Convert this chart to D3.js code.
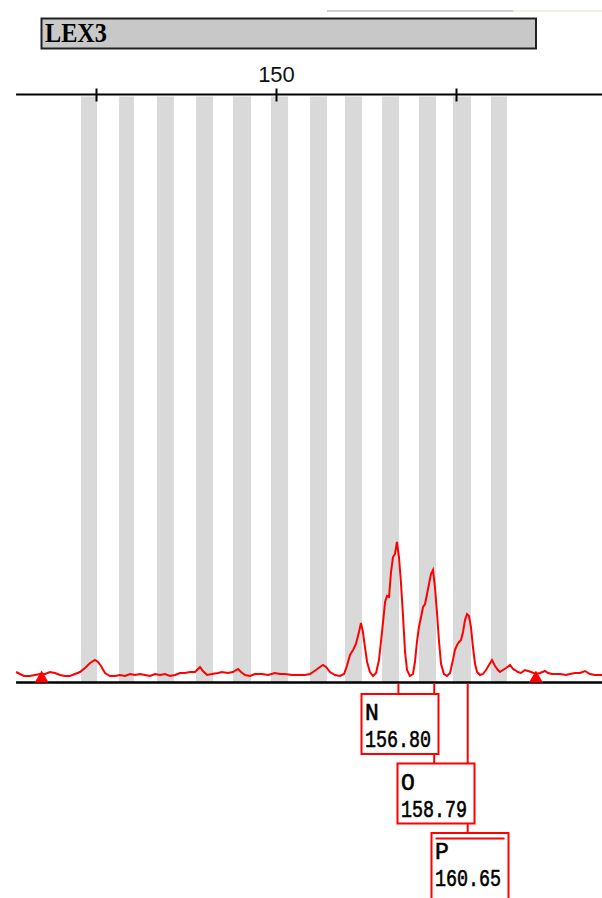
<!DOCTYPE html>
<html>
<head>
<meta charset="utf-8">
<script src="https://cdn.jsdelivr.net/npm/d3@7"></script>
<style>
html, body { margin: 0; padding: 0; background: #fff; }
svg { display: block; }
</style>
</head>
<body>
<svg id="chart" width="602" height="898"></svg>
<script>
// ---- data ----
const markerName = "LEX3";
const tickValues = [140, 150, 160];
const tickLabels = ["", "150", ""];
const binStart = [139.17, 141.28, 143.39, 145.56, 147.61, 149.72, 151.89, 153.83, 155.89, 157.94, 159.83, 161.94];
const binEnd   = [140.06, 142.11, 144.33, 146.50, 148.61, 150.67, 152.83, 154.78, 156.83, 158.89, 160.83, 162.83];
const traceBp = [135.56,135.78,136.00,136.33,136.61,136.89,137.17,137.44,137.72,138.00,138.28,138.56,138.83,139.11,139.39,139.67,139.94,140.11,140.28,140.50,140.78,141.06,141.33,141.61,141.89,142.17,142.44,142.72,143.00,143.28,143.56,143.83,144.11,144.39,144.67,144.94,145.22,145.50,145.67,145.78,145.94,146.17,146.44,146.78,147.00,147.33,147.61,147.89,148.06,148.28,148.56,148.83,149.22,149.56,149.94,150.22,150.50,150.89,151.33,151.61,151.89,152.22,152.44,152.61,152.78,153.00,153.28,153.56,153.78,153.94,154.11,154.28,154.44,154.61,154.72,154.83,154.94,155.06,155.22,155.39,155.56,155.72,155.89,156.06,156.17,156.28,156.39,156.50,156.61,156.72,156.83,156.94,157.06,157.17,157.28,157.44,157.61,157.72,157.83,157.94,158.06,158.17,158.28,158.39,158.50,158.61,158.72,158.83,158.94,159.06,159.17,159.33,159.50,159.67,159.83,159.94,160.06,160.17,160.28,160.39,160.50,160.61,160.72,160.83,160.94,161.06,161.17,161.33,161.50,161.67,161.83,162.00,162.17,162.33,162.44,162.61,162.78,163.00,163.17,163.28,163.44,163.61,163.83,164.00,164.17,164.44,164.67,164.94,165.11,165.33,165.56,165.78,166.11,166.33,166.61,166.89,167.17,167.44,167.72,168.00,168.11];
const traceRfu = [10,8,6,6,7,8,8,10,9,7,6,6,8,10,14,19,22,20,16,9,6,6,7,6,8,7,8,7,6,8,7,8,6,7,9,9,10,10,13,15,11,7,8,9,10,9,10,13,10,7,6,8,8,7,9,8,8,7,7,7,8,12,15,17,15,10,7,6,8,16,27,32,38,50,59,50,35,20,10,6,9,22,50,80,86,85,110,125,128,140,125,100,65,30,12,6,8,20,40,55,65,75,78,88,98,108,112,95,70,40,18,8,6,9,22,32,37,40,42,50,62,68,66,55,35,18,10,7,8,12,17,22,16,12,10,12,14,17,13,12,10,9,12,11,10,8,9,11,9,8,8,8,7,8,9,9,11,8,7,7,7];
const markerBp = [136.98, 164.44];
const peakNames = ["N", "O", "P"];
const peakSizes = [156.80, 158.79, 160.65];

// ---- layout ----
const W = 602, H = 898;
const svg = d3.select("#chart");
const axisY = 94.5, baseY = 682.5, plotTop = 96.5;
const x = d3.scaleLinear().domain([134.667, 168.111]).range([0, W]);
const y = d3.scaleLinear().domain([0, 585]).range([baseY - 0.5, baseY - 0.5 - 585]);

// faint artifact line at top
svg.append("line").attr("x1", 327).attr("x2", 513).attr("y1", 11).attr("y2", 11)
  .attr("stroke", "#d0d0d0").attr("stroke-width", 2);
svg.append("line").attr("x1", 513).attr("x2", W).attr("y1", 11).attr("y2", 11)
  .attr("stroke", "#f2f0e2").attr("stroke-width", 2);

// marker name bar
svg.append("rect").attr("x", 41.5).attr("y", 18.5).attr("width", 494.5).attr("height", 30)
  .attr("fill", "#c8c8c8").attr("stroke", "#222").attr("stroke-width", 2);
svg.append("text").attr("x", 45).attr("y", 42)
  .attr("font-family", "'Liberation Serif', 'Times New Roman', serif")
  .attr("font-weight", "bold").attr("font-size", 27)
  .attr("textLength", 62).attr("lengthAdjust", "spacingAndGlyphs")
  .attr("fill", "#000").text(markerName);

// bins
svg.append("g").selectAll("rect").data(binStart).join("rect")
  .attr("x", (d) => x(d))
  .attr("width", (d, i) => x(binEnd[i]) - x(d))
  .attr("y", plotTop).attr("height", baseY - plotTop)
  .attr("fill", "#d9d9d9");

// top axis
const axis = d3.axisTop(x).tickValues(tickValues)
  .tickFormat((d, i) => tickLabels[i]).tickSizeOuter(0).tickSizeInner(7);
const ag = svg.append("g").attr("transform", `translate(0,${axisY})`).call(axis);
ag.select(".domain").remove();
ag.append("line").attr("x1", x(135.56)).attr("x2", W).attr("y1", 0).attr("y2", 0)
  .attr("stroke", "#000").attr("stroke-width", 2);
ag.selectAll(".tick line").attr("y1", -6).attr("y2", 7).attr("stroke", "#000").attr("stroke-width", 2);
ag.selectAll(".tick text").attr("y", -12.5).attr("dy", 0)
  .attr("font-family", "'Liberation Sans', Arial, sans-serif").attr("font-size", 22)
  .attr("fill", "#111");

// baseline
svg.append("line").attr("x1", x(135.56)).attr("x2", W).attr("y1", baseY).attr("y2", baseY)
  .attr("stroke", "#000").attr("stroke-width", 2.5);

// trace
const pts = traceBp.map((b, i) => [b, traceRfu[i]]);
svg.append("path").datum(pts)
  .attr("d", d3.line().x((d) => x(d[0])).y((d) => y(d[1])))
  .attr("fill", "none").attr("stroke", "#ff0000").attr("stroke-width", 2)
  .attr("stroke-linejoin", "miter");

// baseline markers (triangles)
svg.append("g").selectAll("path").data(markerBp).join("path")
  .attr("d", (d) => `M${x(d) - 7},${baseY} L${x(d)},${baseY - 12} L${x(d) + 7},${baseY} Z`)
  .attr("fill", "#ff0000");

// peak labels
const boxW = 77, boxH = 60, rowStep = 69.5, firstTop = 694;
const lg = svg.append("g");
peakSizes.forEach((s, i) => {
  lg.append("line").attr("x1", x(s)).attr("x2", x(s))
    .attr("y1", baseY + 1).attr("y2", firstTop + i * rowStep)
    .attr("stroke", "#ff0000").attr("stroke-width", 2);
});
peakSizes.forEach((s, i) => {
  const left = Math.round(x(s) - 37) + 0.5;
  const top = firstTop + i * rowStep;
  const last = i === peakSizes.length - 1;
  const g = lg.append("g");
  g.append("rect").attr("x", left).attr("y", top).attr("width", boxW).attr("height", last ? boxH + 20 : boxH)
    .attr("fill", "#fff").attr("stroke", "#ff0000").attr("stroke-width", 2);
  if (last) {
    g.append("line").attr("x1", left + 4).attr("x2", left + boxW - 4)
      .attr("y1", top + 5.5).attr("y2", top + 5.5)
      .attr("stroke", "#ff0000").attr("stroke-width", 2);
  }
  const t = g.append("text").attr("font-family", "'Liberation Mono', 'Courier New', monospace")
    .attr("font-size", 23).attr("fill", "#000")
    .attr("stroke", "#000").attr("stroke-width", 0.6);
  t.append("tspan").attr("x", left + 3.5).attr("y", top + 26).text(peakNames[i]);
  t.append("tspan").attr("x", left + 3.5).attr("y", top + 53)
    .attr("textLength", 66).attr("lengthAdjust", "spacingAndGlyphs").text(s.toFixed(2));
});
</script>
</body>
</html>
